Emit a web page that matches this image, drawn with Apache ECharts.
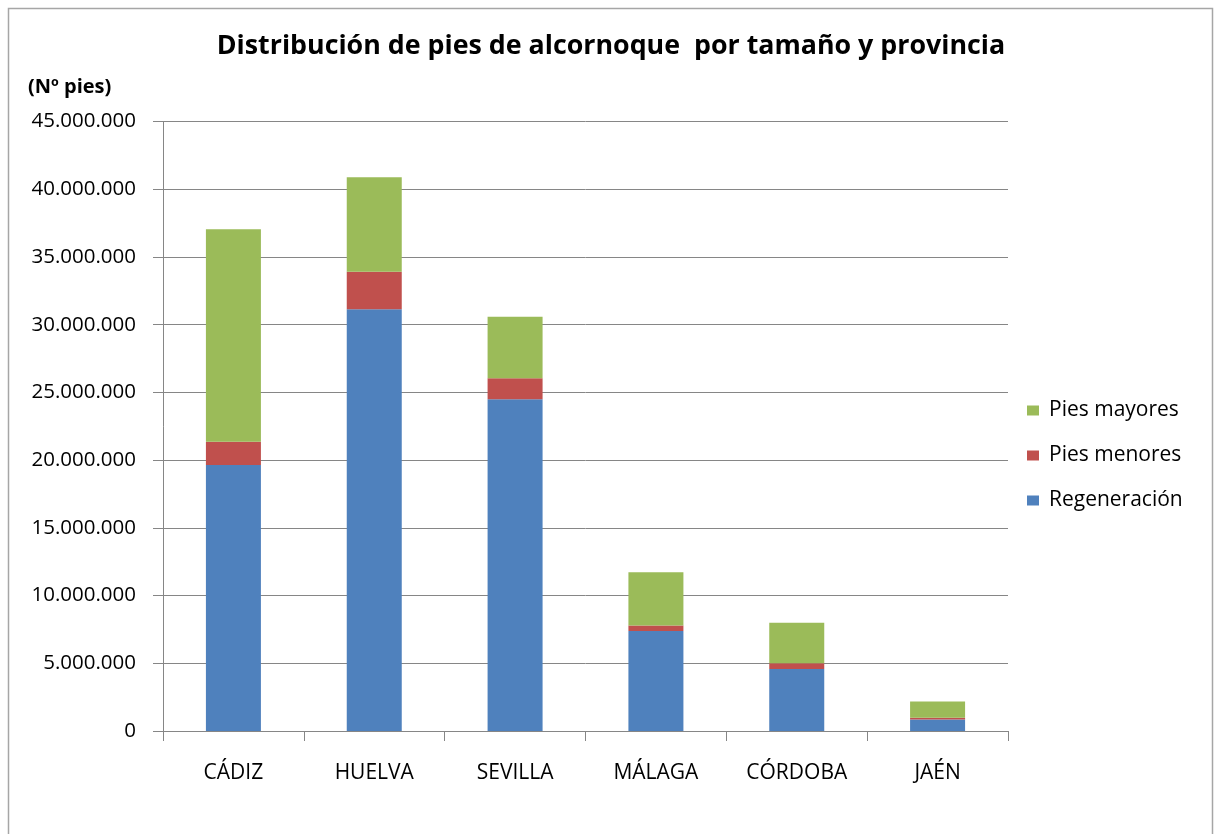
<!DOCTYPE html>
<html>
<head>
<meta charset="utf-8">
<script src="https://cdn.jsdelivr.net/npm/echarts@6/dist/echarts.min.js"></script>
<style>
html,body{margin:0;padding:0;background:#fff;}
#chart{width:1220px;height:834px;}
</style>
</head>
<body>
<div id="chart"></div>
<script>
const categories = ['CÁDIZ', 'HUELVA', 'SEVILLA', 'MÁLAGA', 'CÓRDOBA', 'JAÉN'];
const regeneracion = [19640000, 31130000, 24490000, 7380000, 4580000, 850000];
const piesMenores = [1720000, 2780000, 1550000, 400000, 420000, 120000];
const piesMayores = [15680000, 6970000, 4550000, 3940000, 3000000, 1200000];
const seriesNames = ['Regeneración', 'Pies menores', 'Pies mayores'];
const legendOrder = ['Pies mayores', 'Pies menores', 'Regeneración'];
const titleText = 'Distribución de pies de alcornoque  por tamaño y provincia';
const unitText = '(Nº pies)';

const FONT = '"Open Sans", "DejaVu Sans", sans-serif';
const chart = echarts.init(document.getElementById('chart'), null, {renderer: 'canvas'});

function fmt(v) {
  return String(Math.round(v)).replace(/\B(?=(\d{3})+(?!\d))/g, '.');
}

const option = {
  backgroundColor: '#ffffff',
  animation: false,
  color: ['#4F81BD', '#C0504D', '#9BBB59'],
  title: {
    text: titleText,
    left: 606,
    textAlign: 'center',
    top: 28,
    textStyle: {fontFamily: FONT, fontWeight: 'bold', fontSize: 26.8, color: '#000'}
  },
  graphic: [
    {type: 'rect', shape: {x: 8.5, y: 8.5, width: 1204, height: 850},
     style: {fill: 'none', stroke: '#a6a6a6', lineWidth: 1.5}, silent: true},
    {type: 'text', left: 28, top: 77,
     style: {text: unitText, font: 'bold 20px ' + FONT, fill: '#000'}}
  ],
  legend: {
    data: legendOrder,
    orient: 'vertical',
    left: 1027,
    top: 400,
    padding: 0,
    itemWidth: 12,
    itemHeight: 10,
    itemGap: 24,
    icon: 'rect',
    textStyle: {fontFamily: FONT, fontSize: 21, color: '#000', lineHeight: 21, padding: [0, 0, 0, 5]}
  },
  grid: {left: 163, right: 212, top: 121.5, bottom: 103, containLabel: false},
  xAxis: {
    type: 'category',
    data: categories,
    axisLine: {show: true, lineStyle: {color: '#868686', width: 1}},
    axisTick: {show: true, length: 10, alignWithLabel: false, lineStyle: {color: '#868686'}},
    axisLabel: {fontFamily: FONT, fontSize: 21, color: '#000', margin: 32}
  },
  yAxis: {
    type: 'value',
    min: 0,
    max: 45000000,
    interval: 5000000,
    axisLine: {show: true, lineStyle: {color: '#868686', width: 1}},
    axisTick: {show: true, length: 10, lineStyle: {color: '#868686'}},
    splitLine: {show: true, lineStyle: {color: '#868686', width: 1}},
    axisLabel: {fontFamily: FONT, fontSize: 20.5, color: '#000', margin: 27, formatter: fmt}
  },
  series: [
    {name: seriesNames[0], type: 'bar', stack: 'total', data: regeneracion, barWidth: 55},
    {name: seriesNames[1], type: 'bar', stack: 'total', data: piesMenores, barWidth: 55},
    {name: seriesNames[2], type: 'bar', stack: 'total', data: piesMayores, barWidth: 55}
  ]
};
chart.setOption(option);
</script>
</body>
</html>
